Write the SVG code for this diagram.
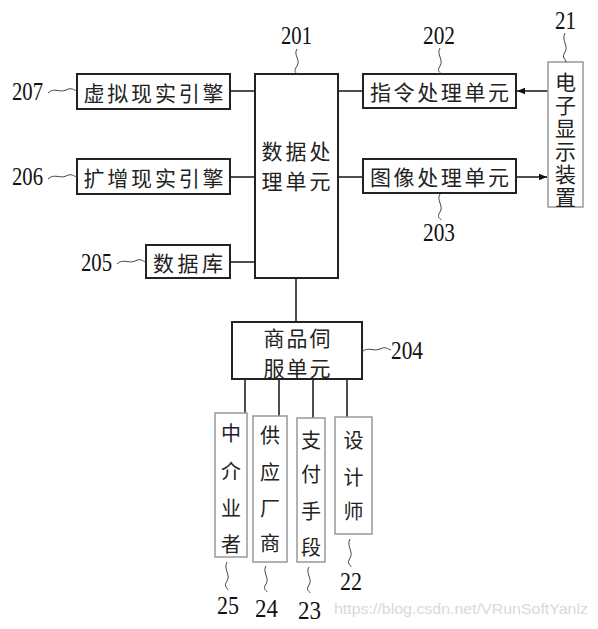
<svg xmlns="http://www.w3.org/2000/svg" width="598" height="629" viewBox="0 0 598 629">
<style>
.box{fill:#fff;stroke:#222;stroke-width:2}
.gbox{fill:#fff;stroke:#999;stroke-width:1.5}
.ln{fill:none;stroke:#222;stroke-width:1.6}
.tl{fill:none;stroke:#444;stroke-width:1}
.cn{font-family:"Noto Sans CJK SC","Noto Sans CJK TC",sans-serif;font-size:21px;fill:#222}
.vc{font-family:"Noto Sans CJK SC","Noto Sans CJK TC",sans-serif;font-size:20px;fill:#222;text-anchor:middle}
.num{font-family:"Liberation Serif","Times New Roman",serif;font-size:25px;fill:#111}
.wm{font-family:"Liberation Sans",Arial,sans-serif;font-size:15px;fill:#d9d9d9}
</style>
<defs>
<marker id="ah" viewBox="0 0 10 10" refX="10" refY="5" markerWidth="10" markerHeight="8" markerUnits="userSpaceOnUse" orient="auto">
<path d="M0,1 L10,5 L0,9 Z" fill="#111"/>
</marker>
</defs>
<g id="connectors">
<line class="ln" x1="230" y1="91" x2="255" y2="91"/>
<line class="ln" x1="230" y1="177" x2="255" y2="177"/>
<line class="ln" x1="230" y1="262" x2="255" y2="262"/>
<line class="ln" x1="338" y1="91" x2="363" y2="91"/>
<line class="ln" x1="338" y1="177" x2="363" y2="177"/>
<line class="ln" x1="548" y1="91" x2="517" y2="91" marker-end="url(#ah)"/>
<line class="ln" x1="516" y1="177" x2="547" y2="177" marker-end="url(#ah)"/>
<line class="ln" x1="296" y1="278" x2="296" y2="322"/>
<line class="ln" x1="245" y1="379" x2="245" y2="413"/>
<line class="ln" x1="279" y1="379" x2="279" y2="416"/>
<line class="ln" x1="313" y1="379" x2="313" y2="418"/>
<line class="ln" x1="347" y1="379" x2="347" y2="417"/>
</g>
<g id="n201">
<rect class="box" x="255" y="74" width="83" height="204"/>
<text class="cn" x="296" y="150" font-size="20" text-anchor="middle" dominant-baseline="central" textLength="69" lengthAdjust="spacing">数据处</text>
<text class="cn" x="296" y="180" font-size="20" text-anchor="middle" dominant-baseline="central" textLength="69" lengthAdjust="spacing">理单元</text>
<path class="tl" d="M297,49 C293,55 301,60 297,66 S296,72 297,74"/>
<text class="num" x="281" y="44" textLength="31" lengthAdjust="spacingAndGlyphs">201</text>
</g>
<g id="n207">
<rect class="box" x="77" y="74" width="153" height="35"/>
<text class="cn" x="153.5" y="92" text-anchor="middle" dominant-baseline="central" textLength="140" lengthAdjust="spacing">虚拟现实引擎</text>
<path class="tl" d="M48,93 C54,87 60,93 66,90 S73,90 77,91"/>
<text class="num" x="12" y="100" textLength="31" lengthAdjust="spacingAndGlyphs">207</text>
</g>
<g id="n206">
<rect class="box" x="77" y="159" width="153" height="35"/>
<text class="cn" x="153.5" y="177" text-anchor="middle" dominant-baseline="central" textLength="140" lengthAdjust="spacing">扩增现实引擎</text>
<path class="tl" d="M48,179 C54,173 60,179 66,176 S73,176 77,177"/>
<text class="num" x="12" y="185" textLength="31" lengthAdjust="spacingAndGlyphs">206</text>
</g>
<g id="n205">
<rect class="box" x="146" y="245" width="84" height="33"/>
<text class="cn" x="188" y="262" text-anchor="middle" dominant-baseline="central" textLength="70" lengthAdjust="spacing">数据库</text>
<path class="tl" d="M117,264 C123,258 129,264 135,261 S142,261 146,262"/>
<text class="num" x="81" y="271" textLength="31" lengthAdjust="spacingAndGlyphs">205</text>
</g>
<g id="n202">
<rect class="box" x="363" y="74" width="153" height="34"/>
<text class="cn" x="439.5" y="91" text-anchor="middle" dominant-baseline="central" textLength="139" lengthAdjust="spacing">指令处理单元</text>
<path class="tl" d="M440,48 C436,54 444,60 440,66 S441,72 441,74"/>
<text class="num" x="423" y="44" textLength="32" lengthAdjust="spacingAndGlyphs">202</text>
</g>
<g id="n203">
<rect class="box" x="363" y="159" width="153" height="34"/>
<text class="cn" x="439.5" y="176" text-anchor="middle" dominant-baseline="central" textLength="139" lengthAdjust="spacing">图像处理单元</text>
<path class="tl" d="M440,194 C436,200 444,206 440,212 S441,218 441,220"/>
<text class="num" x="423" y="241" textLength="32" lengthAdjust="spacingAndGlyphs">203</text>
</g>
<g id="n21">
<rect class="gbox" x="548" y="62" width="35" height="145"/>
<text class="cn" x="565.5" y="72" writing-mode="vertical-rl" font-size="20" letter-spacing="2">电子显示装置</text>
<path class="tl" d="M565,33 C561,40 569,46 565,52 S566,59 566,62"/>
<text class="num" x="555" y="29" textLength="21" lengthAdjust="spacingAndGlyphs">21</text>
</g>
<g id="n204">
<rect class="box" x="232" y="322" width="130" height="57"/>
<text class="cn" x="297" y="337" font-size="20" text-anchor="middle" dominant-baseline="central" textLength="67" lengthAdjust="spacing">商品伺</text>
<text class="cn" x="297" y="367" font-size="20" text-anchor="middle" dominant-baseline="central" textLength="67" lengthAdjust="spacing">服单元</text>
<path class="tl" d="M362,352 C368,346 374,352 380,349 S387,349 391,350"/>
<text class="num" x="391" y="359" textLength="32" lengthAdjust="spacingAndGlyphs">204</text>
</g>
<g id="n25">
<rect class="gbox" x="215" y="413" width="32" height="144"/>
<text class="vc" dominant-baseline="central"><tspan x="231" y="432">中</tspan><tspan x="231" y="470">介</tspan><tspan x="231" y="507">业</tspan><tspan x="231" y="543">者</tspan></text>
<path class="tl" d="M227,562 C223,569 231,575 227,581 S228,588 228,590"/>
<text class="num" x="217" y="614" textLength="22" lengthAdjust="spacingAndGlyphs">25</text>
</g>
<g id="n24">
<rect class="gbox" x="253" y="416" width="34" height="146"/>
<text class="vc" dominant-baseline="central"><tspan x="270" y="434">供</tspan><tspan x="270" y="471">应</tspan><tspan x="270" y="507">厂</tspan><tspan x="270" y="542">商</tspan></text>
<path class="tl" d="M266,566 C262,572 270,578 266,584 S267,590 267,592"/>
<text class="num" x="255" y="617" textLength="23" lengthAdjust="spacingAndGlyphs">24</text>
</g>
<g id="n23">
<rect class="gbox" x="297" y="418" width="28" height="144"/>
<text class="vc" dominant-baseline="central"><tspan x="311" y="439">支</tspan><tspan x="311" y="473">付</tspan><tspan x="311" y="510">手</tspan><tspan x="311" y="546">段</tspan></text>
<path class="tl" d="M309,567 C305,573 313,579 309,585 S310,591 310,593"/>
<text class="num" x="298" y="619" textLength="23" lengthAdjust="spacingAndGlyphs">23</text>
</g>
<g id="n22">
<rect class="gbox" x="335" y="417" width="37" height="117"/>
<text class="vc" dominant-baseline="central"><tspan x="353.5" y="439">设</tspan><tspan x="353.5" y="476">计</tspan><tspan x="353.5" y="510">师</tspan></text>
<path class="tl" d="M350,539 C346,546 354,552 350,558 S351,565 351,567"/>
<text class="num" x="340" y="590" textLength="22" lengthAdjust="spacingAndGlyphs">22</text>
</g>
<text class="wm" x="334" y="614" textLength="254" lengthAdjust="spacingAndGlyphs">https://blog.csdn.net/VRunSoftYanlz</text>
</svg>
